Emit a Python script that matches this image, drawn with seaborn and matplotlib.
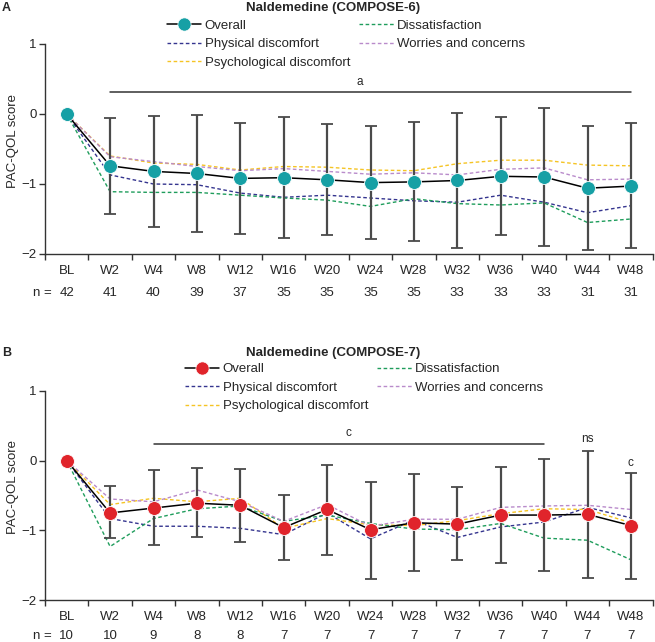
import numpy as np
import pandas as pd
import matplotlib
matplotlib.use("Agg")
import matplotlib.pyplot as plt
import matplotlib.transforms as mtransforms
from matplotlib.lines import Line2D
import seaborn as sns

# ---------------- data ----------------
visits = ["BL", "W2", "W4", "W8", "W12", "W16", "W20", "W24", "W28", "W32", "W36", "W40", "W44", "W48"]

# Panel A: COMPOSE-6
n_a = [42, 41, 40, 39, 37, 35, 35, 35, 35, 33, 33, 33, 31, 31]
overall_a = [0, -0.74, -0.82, -0.85, -0.92, -0.91, -0.94, -0.98, -0.97, -0.95, -0.89, -0.90, -1.06, -1.03]
upper_a = [np.nan, -0.06, -0.03, -0.01, -0.13, -0.04, -0.14, -0.17, -0.12, 0.02, -0.04, 0.09, -0.17, -0.13]
lower_a = [np.nan, -1.43, -1.61, -1.69, -1.71, -1.77, -1.73, -1.78, -1.81, -1.92, -1.73, -1.89, -1.94, -1.92]
physical_a = [0, -0.87, -1.00, -1.01, -1.13, -1.19, -1.16, -1.20, -1.24, -1.26, -1.16, -1.26, -1.41, -1.31]
psych_a = [0, -0.60, -0.70, -0.72, -0.80, -0.75, -0.76, -0.80, -0.81, -0.71, -0.66, -0.66, -0.73, -0.74]
dissat_a = [0, -1.11, -1.12, -1.12, -1.16, -1.20, -1.23, -1.32, -1.21, -1.28, -1.30, -1.27, -1.55, -1.50]
worries_a = [0, -0.61, -0.68, -0.75, -0.81, -0.78, -0.82, -0.86, -0.84, -0.87, -0.79, -0.77, -0.94, -0.93]

# Panel B: COMPOSE-7
n_b = [10, 10, 9, 8, 8, 7, 7, 7, 7, 7, 7, 7, 7, 7]
overall_b = [0, -0.75, -0.68, -0.61, -0.64, -0.96, -0.70, -0.99, -0.89, -0.91, -0.78, -0.78, -0.77, -0.93]
upper_b = [np.nan, -0.36, -0.14, -0.11, -0.12, -0.49, -0.07, -0.31, -0.19, -0.38, -0.09, 0.02, 0.14, -0.18]
lower_b = [np.nan, -1.11, -1.21, -1.09, -1.16, -1.42, -1.35, -1.69, -1.58, -1.43, -1.47, -1.58, -1.68, -1.69]
physical_b = [0, -0.83, -0.94, -0.94, -0.97, -1.06, -0.75, -1.12, -0.85, -1.10, -0.95, -0.88, -0.67, -0.82]
psych_b = [0, -0.63, -0.54, -0.59, -0.54, -0.97, -0.83, -0.92, -0.93, -0.86, -0.76, -0.69, -0.70, -0.89]
dissat_b = [0, -1.23, -0.83, -0.69, -0.65, -0.87, -0.78, -0.90, -0.98, -0.99, -0.90, -1.11, -1.14, -1.42]
worries_b = [0, -0.55, -0.59, -0.42, -0.59, -0.87, -0.63, -0.94, -0.84, -0.84, -0.67, -0.65, -0.64, -0.70]

domain_names = ["Physical discomfort", "Psychological discomfort", "Dissatisfaction", "Worries and concerns"]
domain_colors = {"Physical discomfort": "#35358f",
                 "Psychological discomfort": "#f5c424",
                 "Dissatisfaction": "#1f9d5c",
                 "Worries and concerns": "#b98bcb"}

# ---------------- style ----------------
sns.set_theme(style="ticks")
plt.rcParams["font.family"] = ["Liberation Sans", "DejaVu Sans"]
plt.rcParams["axes.unicode_minus"] = True

FS = 9.5
DASH = (0, (2.6, 1.8))

fig = plt.figure(figsize=(6.55, 6.42), dpi=100)
W, H = 655.0, 642.0


def px_axes(left, right, top, bottom):
    return fig.add_axes([left / W, 1 - bottom / H, (right - left) / W, (bottom - top) / H])


def draw_panel(ax, overall, upper, lower, domains, n_vals, marker_color, n_offset_px):
    pos = np.arange(len(visits))
    # dashed domain lines
    for name, vals in zip(domain_names, domains):
        sns.lineplot(x=pos, y=vals, ax=ax, color=domain_colors[name], linestyle=DASH,
                     linewidth=1.0, zorder=2, legend=False)
    # overall black line
    sns.lineplot(x=pos, y=overall, ax=ax, color="black", linewidth=1.1, zorder=3, legend=False)
    # error bars
    ov = np.array(overall, dtype=float)
    up = np.array(upper, dtype=float)
    lo = np.array(lower, dtype=float)
    m = ~np.isnan(up)
    ax.errorbar(pos[m], ov[m], yerr=[ov[m] - lo[m], up[m] - ov[m]], fmt="none",
                ecolor="#4a4a4a", elinewidth=1.6, capsize=4, capthick=1.3, zorder=4)
    # markers
    sns.scatterplot(x=pos, y=overall, ax=ax, color=marker_color, s=100, edgecolor="white",
                    linewidth=0.6, zorder=5, legend=False)

    ax.set_xlim(-0.5, len(visits) - 0.5)
    ax.set_ylim(-2, 1)
    ax.set_yticks([-2, -1, 0, 1])
    ax.set_xticks(np.arange(-0.5, len(visits), 1.0))
    ax.set_xticklabels([])
    ax.set_xticks(pos, minor=True)
    ax.set_xticklabels(visits, minor=True, fontsize=FS)
    ax.tick_params(axis="x", which="major", direction="out", length=4, width=1, color="#333333")
    ax.tick_params(axis="x", which="minor", length=0, pad=8)
    ax.tick_params(axis="y", direction="out", length=4, width=1, color="#333333", labelsize=FS, pad=2)
    for s in ["left", "bottom"]:
        ax.spines[s].set_color("#333333")
        ax.spines[s].set_linewidth(1.0)
    sns.despine(ax=ax)
    ax.set_xlabel("")
    ax.set_ylabel("PAC-QOL score", fontsize=FS)
    ax.yaxis.set_label_coords(-0.043, 0.54)
    ax.patch.set_alpha(0)

    trans = mtransforms.blended_transform_factory(ax.transData, ax.transAxes)
    yb = -n_offset_px / 210.0
    ax.text(-0.55, yb, "n =", transform=trans, ha="center", va="center", fontsize=FS)
    for p, nv in zip(pos, n_vals):
        ax.text(p, yb, str(nv), transform=trans, ha="center", va="center", fontsize=FS)


def add_legend(marker_color, x0, ytop):
    handles = [Line2D([0], [0], color="black", lw=1.1, marker="o", markerfacecolor=marker_color,
                      markeredgecolor="white", markeredgewidth=0.5, markersize=9.5)]
    labels = ["Overall"]
    for name in domain_names:
        handles.append(Line2D([0], [0], color=domain_colors[name], lw=1.0, linestyle=DASH))
        labels.append(name)
    fig.legend(handles, labels, ncol=2,
               loc="upper left", bbox_to_anchor=(x0 / W, 1 - ytop / H), frameon=False,
               fontsize=FS, handlelength=2.6, handletextpad=0.25, labelspacing=0.48,
               columnspacing=0.7, borderpad=0, borderaxespad=0)


# ---------------- Panel A ----------------
axA = px_axes(45, 652.6, 44, 254)
draw_panel(axA, overall_a, upper_a, lower_a, [physical_a, psych_a, dissat_a, worries_a], n_a,
           "#16a0a5", 38.7)
axA.plot([1, 13], [0.32, 0.32], color="#333333", lw=1.1, clip_on=False)
axA.text(6.75, 0.46, "a", ha="center", va="center", fontsize=8.5)
fig.text(333 / W, 1 - 7.5 / H, "Naldemedine (COMPOSE-6)", ha="center", va="center",
         fontsize=FS, fontweight="bold")
fig.text(2 / W, 1 - 8 / H, "A", ha="left", va="center", fontsize=9, fontweight="bold")
add_legend("#16a0a5", 167, 19.5)

# ---------------- Panel B ----------------
axB = px_axes(45, 652.6, 390.7, 600.3)
draw_panel(axB, overall_b, upper_b, lower_b, [physical_b, psych_b, dissat_b, worries_b], n_b,
           "#e0242b", 35.5)
axB.plot([2, 11], [0.24, 0.24], color="#333333", lw=1.1, clip_on=False)
axB.text(6.5, 0.40, "c", ha="center", va="center", fontsize=8.5)
axB.text(12, 0.31, "ns", ha="center", va="center", fontsize=8.5)
axB.text(13, -0.03, "c", ha="center", va="center", fontsize=8.5)
fig.text(333 / W, 1 - 353 / H, "Naldemedine (COMPOSE-7)", ha="center", va="center",
         fontsize=FS, fontweight="bold")
fig.text(2 / W, 1 - 353 / H, "B", ha="left", va="center", fontsize=9, fontweight="bold")
add_legend("#e0242b", 185, 363)

fig.savefig("out.png", dpi=100)
